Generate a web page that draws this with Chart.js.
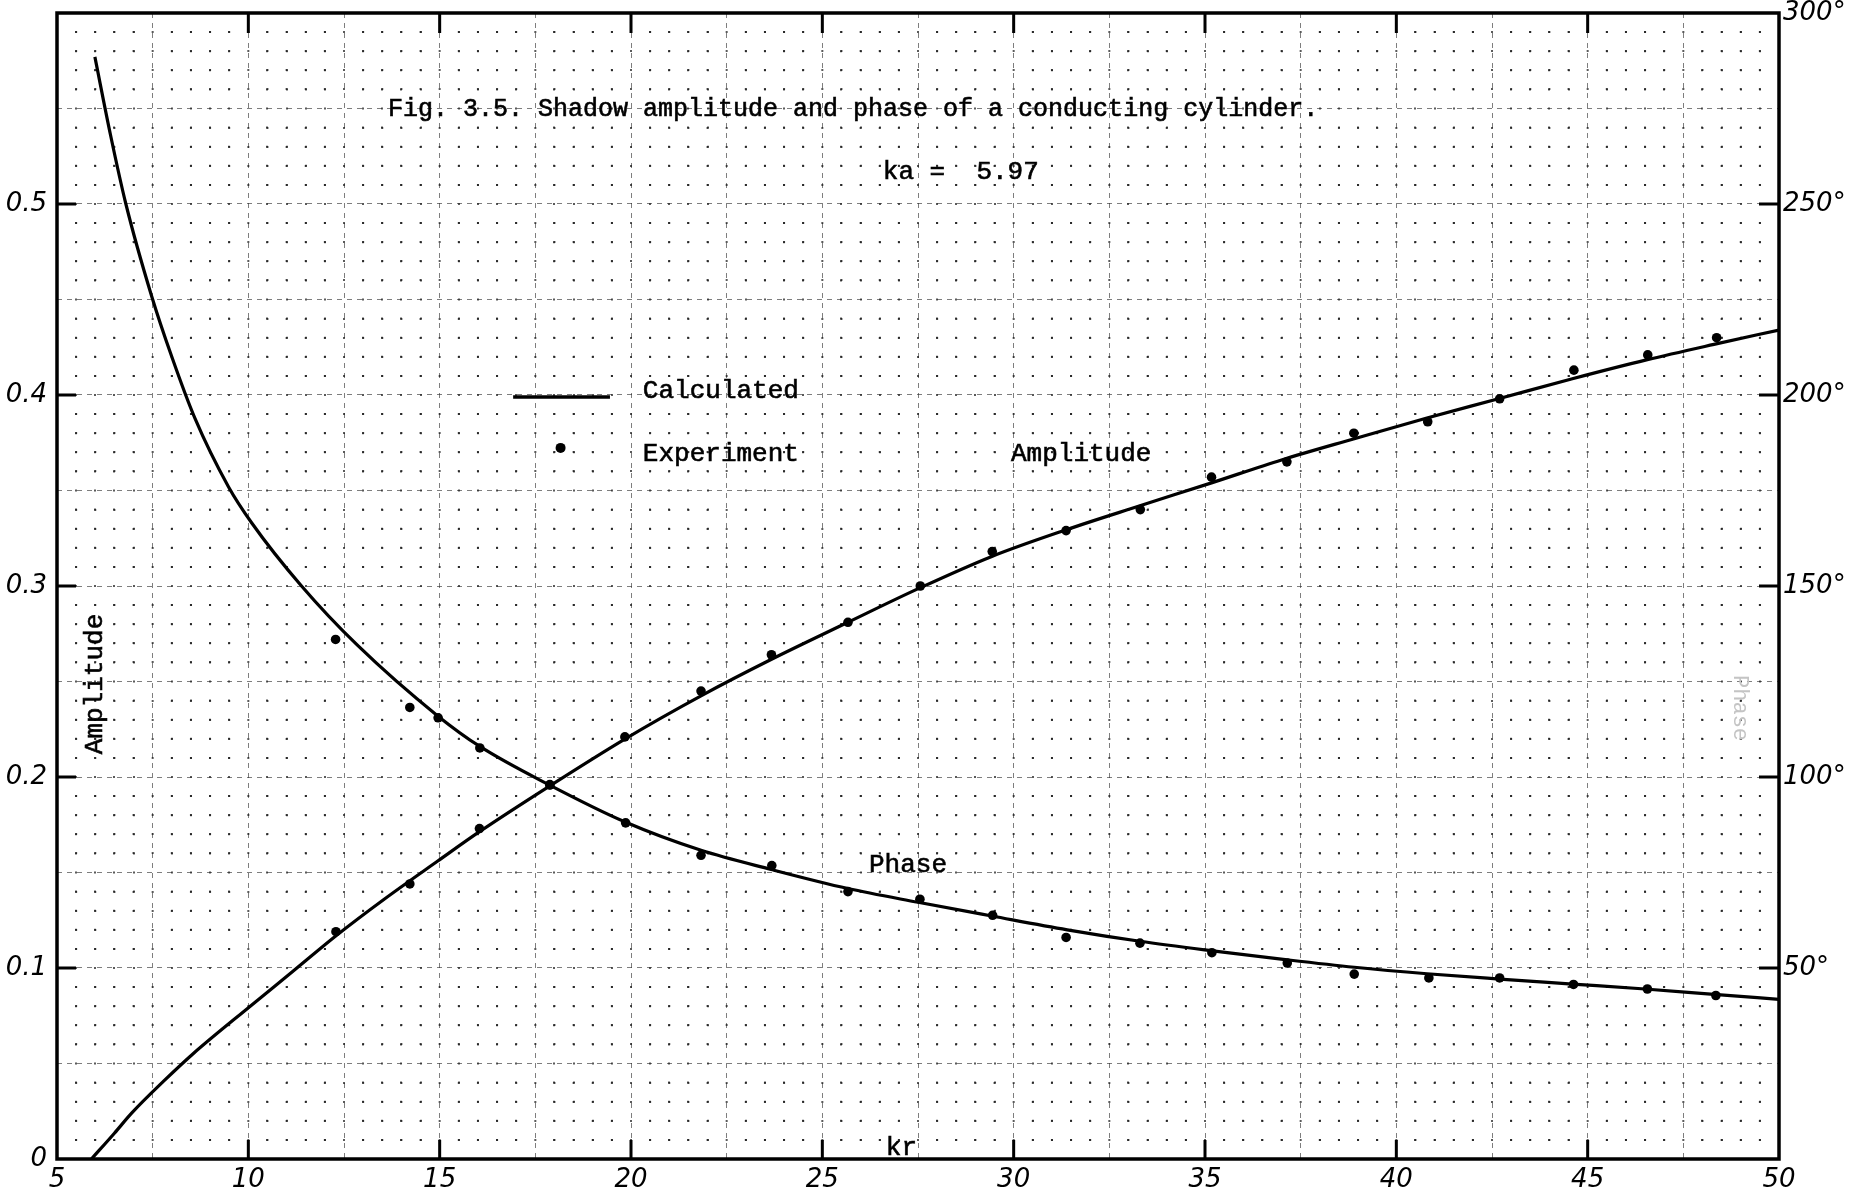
<!DOCTYPE html>
<html>
<head>
<meta charset="utf-8">
<title>Shadow amplitude and phase of a conducting cylinder</title>
<script src="https://cdn.jsdelivr.net/npm/chart.js@4.4.1/dist/chart.umd.min.js"></script>
<style>
  html, body { margin: 0; padding: 0; background: #ffffff; }
  #wrap { width: 1858px; height: 1193px; }
</style>
</head>
<body>
<div id="wrap"><canvas id="chart" width="1858" height="1193"></canvas></div>
<script>
// Calculated shadow amplitude versus kr
const ampCalcKr  = [5.9, 6.5, 6.95, 7.8, 8.55, 10.05, 11.15, 12.3, 13.55, 14.95, 16.05, 17.85, 19.85, 21.83, 23.66, 25.67, 27.55, 29.43, 31.38, 33.3, 35.17, 37.0, 38.88, 40.8, 42.67, 44.6, 46.56, 48.3, 50];
const ampCalcVal = [0, 0.0135, 0.024, 0.041, 0.055, 0.080, 0.098, 0.117, 0.136, 0.156, 0.1715, 0.195, 0.220, 0.2425, 0.2615, 0.281, 0.299, 0.3155, 0.3295, 0.342, 0.354, 0.366, 0.377, 0.388, 0.398, 0.4085, 0.4185, 0.4265, 0.434];

// Calculated shadow phase (degrees) versus kr
const phaseCalcKr  = [5.99, 6.4, 6.8, 7.47, 8.0, 8.6, 9.48, 10.09, 11.39, 12.85, 14.95, 16.05, 17.85, 19.85, 21.83, 23.66, 25.67, 27.5, 29.43, 31.4, 33.3, 35.2, 37.1, 38.9, 40.8, 42.7, 44.6, 46.5, 48.3, 50];
const phaseCalcDeg = [288.5, 268, 250, 226, 210, 194, 176, 166.5, 150, 134.5, 116, 108, 98, 88.2, 80.8, 75.8, 70.8, 67.2, 63.6, 60.0, 57.0, 54.5, 52.2, 50.2, 48.5, 47.1, 45.8, 44.5, 43.1, 41.8];

// Measured amplitude
const ampExpKr  = [12.29, 14.22, 16.04, 17.88, 19.84, 21.83, 23.67, 25.67, 27.56, 29.44, 31.37, 33.31, 35.17, 37.14, 38.89, 40.82, 42.7, 44.64, 46.57, 48.37];
const ampExpVal = [0.119, 0.144, 0.173, 0.196, 0.221, 0.245, 0.264, 0.281, 0.300, 0.318, 0.329, 0.340, 0.357, 0.365, 0.380, 0.386, 0.398, 0.413, 0.421, 0.430];

// Measured phase (degrees)
const phaseExpKr  = [12.28, 14.22, 14.96, 16.05, 17.88, 19.86, 21.83, 23.68, 25.67, 27.55, 29.45, 31.37, 33.3, 35.18, 37.15, 38.9, 40.85, 42.7, 44.63, 46.56, 48.35];
const phaseExpDeg = [136, 118.2, 115.5, 107.6, 97.9, 88.0, 79.5, 76.8, 70.0, 68.0, 63.8, 58.0, 56.5, 54.0, 51.3, 48.4, 47.4, 47.4, 45.7, 44.5, 42.8];

// Tick labels
const krTickValues    = [5, 10, 15, 20, 25, 30, 35, 40, 45, 50];
const krTickLabels    = ['5', '10', '15', '20', '25', '30', '35', '40', '45', '50'];
const ampTickLabels   = ['0', '0.1', '0.2', '0.3', '0.4', '0.5'];
const phaseTickValues = [50, 100, 150, 200, 250, 300];
const phaseTickLabels = ['50°', '100°', '150°', '200°', '250°', '300°'];

const toXY = (xs, ys) => xs.map((x, i) => ({ x: x, y: ys[i] }));

const TYPE_FONT = "'Liberation Mono', 'DejaVu Sans Mono', monospace";
const HAND_FONT = { family: "'DejaVu Sans', sans-serif", size: 26, style: 'italic', lineHeight: 1 };

// graph-paper grid: minor lines show as dots at the crossings, every fifth line dashed
const X_MINOR = 0.5, Y_MINOR = 0.01;
function isMid(v, step) { return Math.round(v / step) % 5 === 0; }

function gridStyle(step, perpCount, horizontal) {
  return {
    color: (c) => (c.tick && isMid(c.tick.value, step)) ? 'rgba(40,40,40,0.6)' : 'rgba(20,20,20,0.7)',
    lineWidth: (c) => (c.tick && isMid(c.tick.value, step)) ? 1 : 2,
    dash: (c) => {
      if (c.tick && isMid(c.tick.value, step)) return [5, 5];
      const a = c.chart.chartArea;
      if (!a) return [2, 17];
      const period = (horizontal ? a.width : a.height) / perpCount;
      return [2, period - 2];
    },
    dashOffset: (c) => (c.tick && isMid(c.tick.value, step)) ? 0 : 1
  };
}

const xGrid = gridStyle(X_MINOR, 60, false);   // vertical lines: dots spaced by the y minor step
const yGrid = gridStyle(Y_MINOR, 90, true);    // horizontal lines: dots spaced by the x minor step

function typed(ctx, text, x, y) {
  ctx.fillText(text, x, y);
  ctx.strokeText(text, x, y);
}

const frameAndText = {
  id: 'frameAndText',
  afterDraw(chart) {
    const ctx = chart.ctx;
    const a = chart.chartArea;
    const sx = chart.scales.x, sy = chart.scales.y, sp = chart.scales.y2;
    const X = (v) => sx.getPixelForValue(v);
    const Y = (v) => sy.getPixelForValue(v);

    ctx.save();
    // plot frame
    ctx.strokeStyle = '#000';
    ctx.lineWidth = 3.5;
    ctx.strokeRect(a.left, a.top, a.right - a.left, a.bottom - a.top);

    // inward major tick marks
    ctx.lineWidth = 3;
    ctx.beginPath();
    krTickValues.slice(1, -1).forEach((v) => {
      const px = X(v);
      ctx.moveTo(px, a.bottom); ctx.lineTo(px, a.bottom - 19);
      ctx.moveTo(px, a.top); ctx.lineTo(px, a.top + 20);
    });
    [0.1, 0.2, 0.3, 0.4, 0.5].forEach((v) => {
      const py = Y(v);
      ctx.moveTo(a.left, py); ctx.lineTo(a.left + 19, py);
    });
    phaseTickValues.slice(0, -1).forEach((v) => {
      const py = sp.getPixelForValue(v);
      ctx.moveTo(a.right, py); ctx.lineTo(a.right - 20, py);
    });
    ctx.stroke();

    // typed captions
    ctx.fillStyle = '#000';
    ctx.strokeStyle = '#000';
    ctx.lineWidth = 0.6;
    ctx.textBaseline = 'middle';
    ctx.textAlign = 'left';
    ctx.font = '25px ' + TYPE_FONT;
    typed(ctx, 'Fig. 3.5. Shadow amplitude and phase of a conducting cylinder.', X(13.65), Y(0.5497));
    ctx.font = '26px ' + TYPE_FONT;
    typed(ctx, 'ka =  5.97', X(26.58), Y(0.5168));
    typed(ctx, 'Calculated', X(20.31), Y(0.4021));
    typed(ctx, 'Experiment', X(20.31), Y(0.3691));
    typed(ctx, 'Amplitude', X(29.93), Y(0.3691));
    typed(ctx, 'Phase', X(26.22), Y(0.1539));
    typed(ctx, 'kr', X(26.66), Y(0.0058));

    // legend samples
    ctx.lineWidth = 3.5;
    ctx.beginPath();
    ctx.moveTo(X(16.92), Y(0.399));
    ctx.lineTo(X(19.45), Y(0.399));
    ctx.stroke();
    ctx.beginPath();
    ctx.arc(X(18.16), Y(0.3723), 5, 0, Math.PI * 2);
    ctx.fill();

    // axis titles
    ctx.lineWidth = 0.6;
    ctx.textAlign = 'center';
    ctx.save();
    ctx.translate(X(5.99), Y(0.2487));
    ctx.rotate(-Math.PI / 2);
    typed(ctx, 'Amplitude', 0, 0);
    ctx.restore();

    ctx.save();
    ctx.fillStyle = '#c4c4c4';
    ctx.font = '22px ' + TYPE_FONT;
    ctx.translate(X(48.98), Y(0.2361));
    ctx.rotate(Math.PI / 2);
    ctx.fillText('Phase', 0, 0);
    ctx.restore();

    ctx.restore();
  }
};

const noPad = (s) => { s.paddingTop = 0; s.paddingBottom = 0; s.paddingLeft = 0; s.paddingRight = 0; };

new Chart(document.getElementById('chart'), {
  type: 'scatter',
  data: {
    datasets: [
      {
        label: 'Amplitude (calculated)',
        data: toXY(ampCalcKr, ampCalcVal),
        yAxisID: 'y',
        showLine: true,
        borderColor: '#000',
        borderWidth: 3.2,
        pointRadius: 0,
        cubicInterpolationMode: 'monotone'
      },
      {
        label: 'Phase (calculated)',
        data: toXY(phaseCalcKr, phaseCalcDeg),
        yAxisID: 'y2',
        showLine: true,
        borderColor: '#000',
        borderWidth: 3.2,
        pointRadius: 0,
        cubicInterpolationMode: 'monotone'
      },
      {
        label: 'Amplitude (experiment)',
        data: toXY(ampExpKr, ampExpVal),
        yAxisID: 'y',
        showLine: false,
        pointRadius: 4.8,
        pointBackgroundColor: '#000',
        pointBorderWidth: 0
      },
      {
        label: 'Phase (experiment)',
        data: toXY(phaseExpKr, phaseExpDeg),
        yAxisID: 'y2',
        showLine: false,
        pointRadius: 4.8,
        pointBackgroundColor: '#000',
        pointBorderWidth: 0
      }
    ]
  },
  options: {
    responsive: false,
    devicePixelRatio: 1,
    animation: false,
    layout: { padding: { top: 13, left: 0, right: 0, bottom: 0 } },
    plugins: { legend: { display: false }, tooltip: { enabled: false }, title: { display: false } },
    scales: {
      x: {
        type: 'linear',
        min: 5, max: 50,
        afterFit: (s) => { s.height = 34; noPad(s); },
        ticks: {
          stepSize: X_MINOR,
          autoSkip: false,
          maxRotation: 0,
          padding: 8,
          color: '#000',
          font: HAND_FONT,
          callback: (v) => {
            const i = krTickValues.findIndex((t) => Math.abs(t - v) < 1e-6);
            return i >= 0 ? krTickLabels[i] : '';
          }
        },
        grid: { drawTicks: false, color: xGrid.color, lineWidth: xGrid.lineWidth },
        border: { display: false, dash: xGrid.dash, dashOffset: xGrid.dashOffset }
      },
      y: {
        type: 'linear',
        position: 'left',
        min: 0, max: 0.6,
        afterFit: (s) => { s.width = 57; noPad(s); },
        ticks: {
          stepSize: Y_MINOR,
          autoSkip: false,
          padding: 10,
          color: '#000',
          font: HAND_FONT,
          callback: (v) => {
            const n = Math.round(v * 100);
            if (n % 10 !== 0) return '';
            const i = n / 10;
            return i < ampTickLabels.length ? ampTickLabels[i] : '';
          }
        },
        grid: { drawTicks: false, color: yGrid.color, lineWidth: yGrid.lineWidth },
        border: { display: false, dash: yGrid.dash, dashOffset: yGrid.dashOffset }
      },
      y2: {
        type: 'linear',
        position: 'right',
        min: 0, max: 300,
        afterFit: (s) => { s.width = 79; noPad(s); },
        ticks: {
          stepSize: 50,
          autoSkip: false,
          padding: 4,
          color: '#000',
          font: HAND_FONT,
          callback: (v) => {
            const i = phaseTickValues.indexOf(Math.round(v));
            return i >= 0 ? phaseTickLabels[i] : '';
          }
        },
        grid: { display: false, drawTicks: false },
        border: { display: false }
      }
    }
  },
  plugins: [frameAndText]
});
</script>
</body>
</html>
